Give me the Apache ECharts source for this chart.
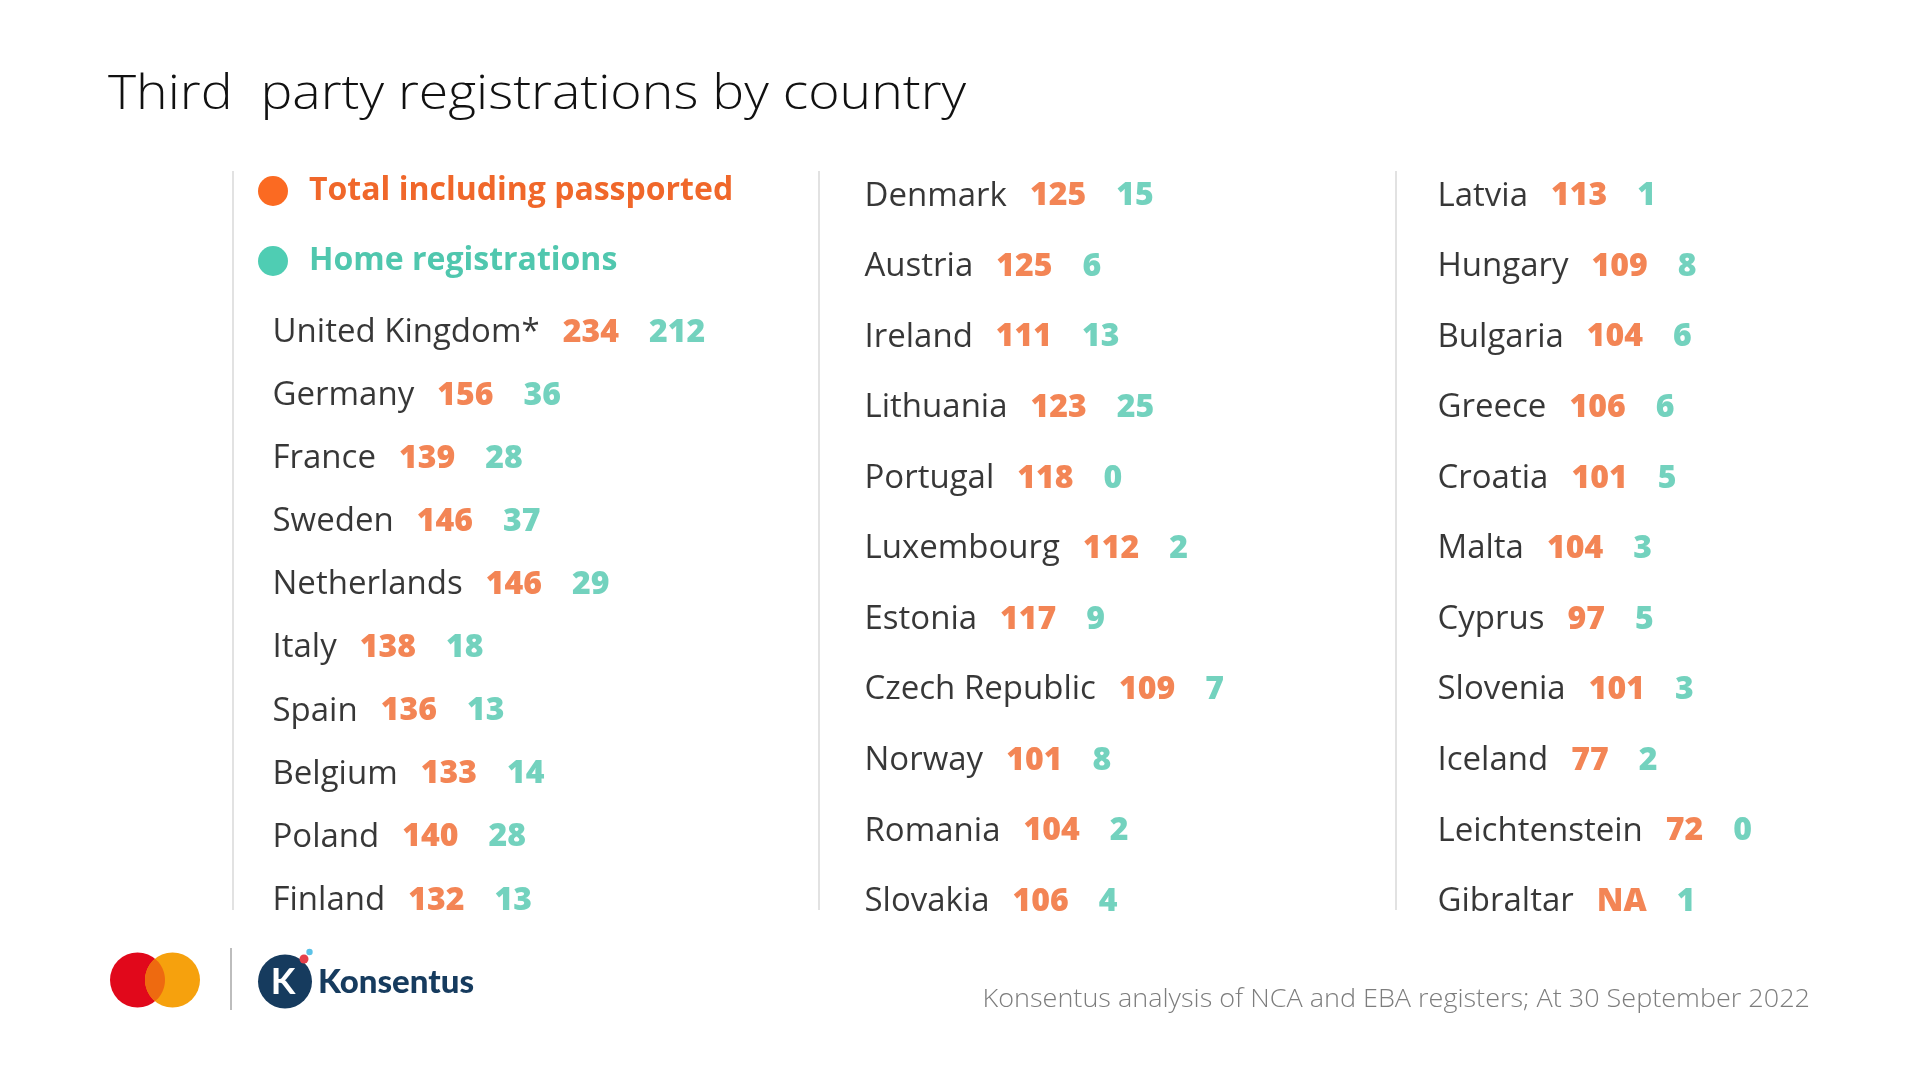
<!DOCTYPE html>
<html><head><meta charset="utf-8">
<script src="https://cdn.jsdelivr.net/npm/echarts@6/dist/echarts.min.js"></script>
<style>html,body{margin:0;padding:0;background:#fff}#c{width:1920px;height:1080px}</style>
</head><body><div id="c"></div>
<script>
// ---- data ----
const countries1 = ['United Kingdom*','Germany','France','Sweden','Netherlands','Italy','Spain','Belgium','Poland','Finland'];
const total1 = [234,156,139,146,146,138,136,133,140,132];
const home1  = [212,36,28,37,29,18,13,14,28,13];
const countries2 = ['Denmark','Austria','Ireland','Lithuania','Portugal','Luxembourg','Estonia','Czech Republic','Norway','Romania','Slovakia'];
const total2 = [125,125,111,123,118,112,117,109,101,104,106];
const home2  = [15,6,13,25,0,2,9,7,8,2,4];
const countries3 = ['Latvia','Hungary','Bulgaria','Greece','Croatia','Malta','Cyprus','Slovenia','Iceland','Leichtenstein','Gibraltar'];
const total3 = [113,109,104,106,101,104,97,101,77,72,null];
const home3  = [1,8,6,6,5,3,5,3,2,0,1];
const seriesNames = ['Total including passported','Home registrations'];
const titleText = 'Third  party registrations by country';
const sourceText = 'Konsentus analysis of NCA and EBA registers; At 30 September 2022';
const logoText = 'Konsentus';

// ---- styles ----
const ORANGE = '#F0672A', TEAL = '#50C7AE', DOT_OR = '#FB6A22', DOT_TE = '#4FCDB3';
const FONT = 'Open Sans';
const cols = [
  {names: countries1, tot: total1, home: home1, left: 272, top: 301, height: 631},
  {names: countries2, tot: total2, home: home2, left: 864, top: 161, height: 776},
  {names: countries3, tot: total3, home: home3, left: 1437, top: 161, height: 776}
];
const rich = {
  n: {fontFamily: FONT, fontSize: 33, color: '#050505'},
  a: {fontFamily: FONT, fontSize: 32, fontWeight: 800, color: ORANGE, padding: [0,0,0,23]},
  b: {fontFamily: FONT, fontSize: 32, fontWeight: 800, color: TEAL, padding: [0,0,0,30]}
};

const grid = [], xAxis = [], yAxis = [], series = [];
cols.forEach((c, i) => {
  grid.push({left: c.left, top: c.top, height: c.height, width: 420});
  xAxis.push({type: 'value', gridIndex: i, min: 0, max: 1, show: false});
  yAxis.push({type: 'category', gridIndex: i, data: c.names, inverse: true, show: false, boundaryGap: true});
  series.push({
    type: 'scatter', xAxisIndex: i, yAxisIndex: i, symbolSize: 1,
    itemStyle: {color: 'rgba(0,0,0,0)'}, silent: true,
    data: c.names.map((n, j) => [0, j]),
    label: {
      show: true, position: 'right', distance: 0,
      formatter: p => {
        const j = p.dataIndex;
        const t = c.tot[j] == null ? 'NA' : c.tot[j];
        return `{n|${c.names[j]}}{a|${t}}{b|${c.home[j]}}`;
      },
      rich: rich
    }
  });
});
// legend series
series.push({type: 'scatter', name: seriesNames[0], xAxisIndex: 0, yAxisIndex: 0, data: [], itemStyle: {color: DOT_OR, opacity: 1}});
series.push({type: 'scatter', name: seriesNames[1], xAxisIndex: 0, yAxisIndex: 0, data: [], itemStyle: {color: DOT_TE, opacity: 1}});

// mastercard overlap lens (decoration geometry)
function lensPoints(c1x, c2x, cy, r, steps) {
  const pts = [];
  const half = (c2x - c1x) / 2;
  const a = Math.acos(half / r);
  for (let k = 0; k <= steps; k++) {
    const t = -a + (2 * a) * k / steps;
    pts.push([c1x + r * Math.cos(t), cy + r * Math.sin(t)]);
  }
  for (let k = 0; k <= steps; k++) {
    const t = Math.PI - a + (2 * a) * k / steps;
    pts.push([c2x + r * Math.cos(t), cy + r * Math.sin(t)]);
  }
  return pts;
}

const sepStyle = {stroke: '#e2e2e2', lineWidth: 2};
const graphic = [
  // title
  {type: 'text', x: 108, y: 96, scaleX: 1.14, style: {text: titleText, font: '300 47px ' + FONT, fill: '#111', align: 'left', verticalAlign: 'middle'}, silent: true},
  {type: 'line', shape: {x1: 233, y1: 171, x2: 233, y2: 910}, style: sepStyle, silent: true},
  {type: 'line', shape: {x1: 819, y1: 171, x2: 819, y2: 910}, style: sepStyle, silent: true},
  {type: 'line', shape: {x1: 1396, y1: 171, x2: 1396, y2: 910}, style: sepStyle, silent: true},
  // mastercard
  {type: 'circle', shape: {cx: 137.5, cy: 980, r: 27.5}, style: {fill: '#E1081B'}, silent: true},
  {type: 'circle', shape: {cx: 172.5, cy: 980, r: 27.5}, style: {fill: '#F6A10D'}, silent: true},
  {type: 'polygon', shape: {points: lensPoints(137.5, 172.5, 980, 27.5, 24)}, style: {fill: '#EE6A10'}, silent: true},
  // divider
  {type: 'line', shape: {x1: 231, y1: 948, x2: 231, y2: 1010}, style: {stroke: '#bdbdbd', lineWidth: 2}, silent: true},
  // konsentus
  {type: 'circle', shape: {cx: 285, cy: 981.5, r: 27}, style: {fill: '#163B5E'}, silent: true},
  {type: 'text', x: 283, y: 982, style: {text: 'K', font: 'bold 36px Lato', fill: '#fff', align: 'center', verticalAlign: 'middle'}, silent: true},
  {type: 'circle', shape: {cx: 304, cy: 959, r: 4.5}, style: {fill: '#E5404A'}, silent: true},
  {type: 'circle', shape: {cx: 309.5, cy: 952, r: 3.2}, style: {fill: '#5BC2E7'}, silent: true},
  {type: 'text', x: 318, y: 982, style: {text: logoText, font: '900 33px Lato', fill: '#163B5E', align: 'left', verticalAlign: 'middle'}, silent: true},
  // source
  {type: 'text', x: 1810, y: 1000, scaleX: 1.08, style: {text: sourceText, font: '300 25px ' + FONT, fill: '#7d7d7d', align: 'right', verticalAlign: 'middle'}, silent: true}
];

const chart = echarts.init(document.getElementById('c'), null, {renderer: 'canvas'});
chart.setOption({
  backgroundColor: '#fff',
  animation: false,
  legend: {
    data: seriesNames, left: 258, top: 175, orient: 'vertical', icon: 'circle',
    itemWidth: 30, itemHeight: 30, itemGap: 38, selectedMode: false, padding: 0,
    formatter: n => n === seriesNames[0] ? `{o|${n}}` : `{g|${n}}`,
    textStyle: {rich: {
      o: {fontFamily: FONT, fontSize: 32, fontWeight: 'bold', color: ORANGE, padding: [0,0,0,16], lineHeight: 30},
      g: {fontFamily: FONT, fontSize: 32, fontWeight: 'bold', color: TEAL, padding: [0,0,0,16], lineHeight: 30}
    }}
  },
  grid, xAxis, yAxis, series, graphic
});
</script></body></html>
